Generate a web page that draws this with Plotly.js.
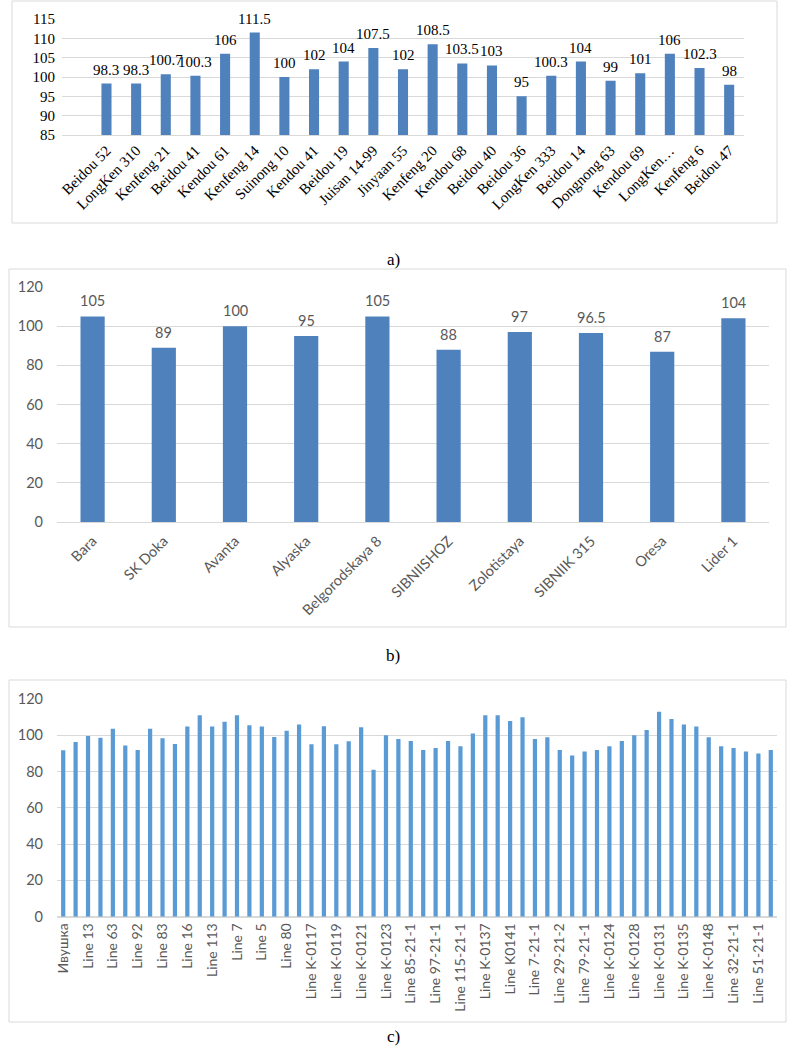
<!DOCTYPE html>
<html>
<head>
<meta charset="utf-8">
<script src="https://cdn.plot.ly/plotly-3.0.1.min.js"></script>
<style>html,body{margin:0;padding:0;background:#fff}#chart{width:787px;height:1058px}</style>
</head>
<body>
<div id="chart"></div>
<script>
// Panel a
const catsA = ["Beidou 52","LongKen 310","Kenfeng 21","Beidou 41","Kendou 61","Kenfeng 14","Suinong 10","Kendou 41","Beidou 19","Juisan 14-99","Jinyaan 55","Kenfeng 20","Kendou 68","Beidou 40","Beidou 36","LongKen 333","Beidou 14","Dongnong 63","Kendou 69","LongKen…","Kenfeng 6","Beidou 47"];
const valsA = [98.3,98.3,100.7,100.3,106,111.5,100,102,104,107.5,102,108.5,103.5,103,95,100.3,104,99,101,106,102.3,98];

// Panel b
const catsB = ["Bara","SK Doka","Avanta","Alyaska","Belgorodskaya 8","SIBNIISHOZ","Zolotistaya","SIBNIIK 315","Oresa","Lider 1"];
const valsB = [105,89,100,95,105,88,97,96.5,87,104];

// Panel c (58 bars, every other one labelled)
const labelsC = ["Ивушка","Line 13","Line 63","Line 92","Line 83","Line 16","Line 113","Line 7","Line 5","Line 80","Line K-0117","Line K-0119","Line K-0121","Line K-0123","Line 85-21-1","Line 97-21-1","Line 115-21-1","Line K-0137","Line K0141","Line 7-21-1","Line 29-21-2","Line 79-21-1","Line K-0124","Line K-0128","Line K-0131","Line K-0135","Line K-0148","Line 32-21-1","Line 51-21-1"];
const valsC = [91.7,96.3,99.6,98.7,103.6,94.3,91.9,103.6,98.3,95.2,104.9,111,104.9,107.5,111,105.5,104.9,99,102.5,106,95,105,95,96.7,104.4,81,100,98,96.8,91.9,93,96.8,93.9,101,111,111,107.9,109.9,98,98.9,91.9,88.9,91,91.9,93.9,96.8,100,102.9,113,109,106,104.9,98.9,93.9,93,91,90,91.9];

const W = 787, H = 1058;
const px = v => v / W;
const py = v => 1 - v / H;

const serif = "Liberation Serif, Times New Roman, serif";
const sans = "Lato, Calibri, sans-serif";
const grey = "#595959";
const grid = "#d9d9d9";

const xC = valsC.map((v, i) => i);
const tickvalsC = labelsC.map((l, i) => 2 * i);

const traces = [
  {type: "bar", x: catsA, y: valsA, xaxis: "x", yaxis: "y", marker: {color: "#4F81BD"}, hoverinfo: "x+y"},
  {type: "bar", x: catsB, y: valsB, xaxis: "x2", yaxis: "y2", marker: {color: "#4F81BD"}, hoverinfo: "x+y"},
  {type: "bar", x: xC, y: valsC, xaxis: "x3", yaxis: "y3", marker: {color: "#5B9BD5"}, hoverinfo: "y"}
];

const annotations = [];
catsA.forEach((c, i) => annotations.push({x: c, y: valsA[i], xref: "x", yref: "y", text: String(valsA[i]), showarrow: false, yanchor: "bottom", yshift: 4, font: {family: serif, size: 15, color: "#000"}}));
catsB.forEach((c, i) => annotations.push({x: c, y: valsB[i], xref: "x2", yref: "y2", text: String(valsB[i]), showarrow: false, yanchor: "bottom", yshift: 5, font: {family: sans, size: 14.5, color: grey}}));
annotations.push({x: px(393), y: py(248), xref: "paper", yref: "paper", text: "a)", showarrow: false, font: {family: serif, size: 17, color: "#000"}});
annotations.push({x: px(393), y: py(655), xref: "paper", yref: "paper", text: "b)", showarrow: false, font: {family: serif, size: 17, color: "#000"}});
annotations.push({x: px(393), y: py(1048), xref: "paper", yref: "paper", text: "c)", showarrow: false, font: {family: serif, size: 17, color: "#000"}});

const box = (x0, y0, x1, y1) => ({type: "rect", xref: "paper", yref: "paper", x0: px(x0), x1: px(x1), y0: py(y1), y1: py(y0), line: {color: "#d9d9d9", width: 1}, fillcolor: "rgba(0,0,0,0)", layer: "below"});

const layout = {
  width: W, height: H,
  margin: {l: 0, r: 0, t: 0, b: 0},
  paper_bgcolor: "#fff", plot_bgcolor: "rgba(0,0,0,0)",
  showlegend: false,
  bargap: 0.66,
  shapes: [box(12, 1, 777, 223), box(9, 269, 786, 627), box(9, 680, 786, 1022)],
  annotations: annotations,
  xaxis: {domain: [px(62), px(744)], anchor: "y", type: "category", range: [-1.5, 21.5], tickangle: -45, showgrid: false, showline: true, linecolor: grid, ticks: "", tickfont: {family: serif, size: 15, color: "#000"}, fixedrange: true},
  yaxis: {domain: [py(135), py(19)], anchor: "x", range: [85, 115], dtick: 5, showgrid: true, gridcolor: grid, zeroline: false, ticks: "", tickfont: {family: serif, size: 15, color: "#000"}, ticklabelstandoff: 6, fixedrange: true},
  xaxis2: {domain: [px(57), px(769)], anchor: "y2", type: "category", tickangle: -45, showgrid: false, showline: true, linecolor: grid, ticks: "", tickfont: {family: sans, size: 14.5, color: grey}, ticklabelstandoff: 4, fixedrange: true},
  yaxis2: {domain: [py(522), py(287)], anchor: "x2", range: [0, 120], dtick: 20, showgrid: true, gridcolor: grid, zeroline: true, zerolinecolor: grid, ticks: "", tickfont: {family: sans, size: 14.5, color: grey}, ticklabelstandoff: 13, fixedrange: true},
  xaxis3: {domain: [px(57), px(777)], anchor: "y3", range: [-0.5, 57.5], tickmode: "array", tickvals: tickvalsC, ticktext: labelsC, tickangle: -90, showgrid: false, showline: true, linecolor: grid, ticks: "", tickfont: {family: sans, size: 14, color: grey}, fixedrange: true},
  yaxis3: {domain: [py(916.7), py(699)], anchor: "x3", range: [0, 120], dtick: 20, showgrid: true, gridcolor: grid, zeroline: true, zerolinecolor: grid, ticks: "", tickfont: {family: sans, size: 14.5, color: grey}, ticklabelstandoff: 13, fixedrange: true}
};

Plotly.newPlot("chart", traces, layout, {staticPlot: true, displayModeBar: false});
</script>
</body>
</html>
